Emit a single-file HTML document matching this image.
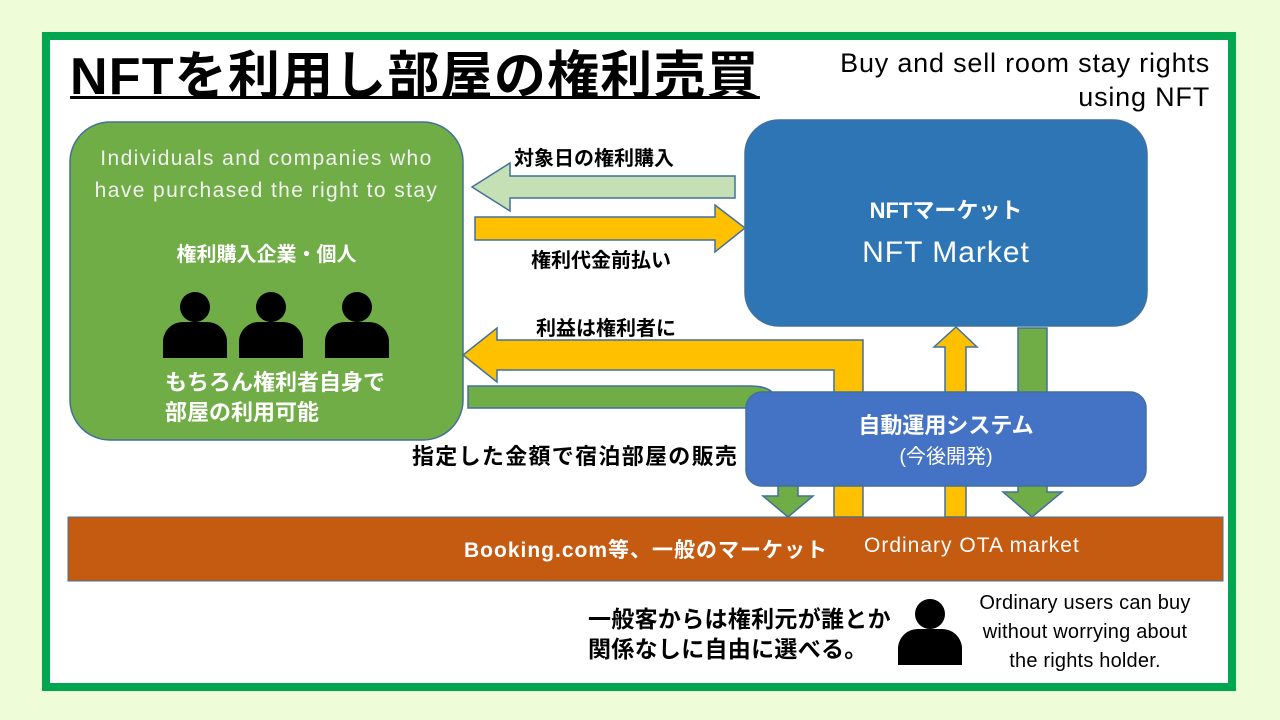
<!DOCTYPE html>
<html><head><meta charset="utf-8"><style>
body{margin:0;width:1280px;height:720px;background:#eefcd8;overflow:hidden;font-family:"Liberation Sans","Noto Sans CJK JP",sans-serif;}
.a{position:absolute;white-space:nowrap;}
</style></head><body>
<div class="a" style="left:42px;top:32px;width:1178px;height:643px;border:8px solid #00a650;background:#fff"></div>
<div class="a" style="left:70px;top:34px;font-size:52px;font-weight:bold;text-decoration:underline;text-decoration-thickness:3px;color:#000;letter-spacing:1.2px">NFTを利用し部屋の権利売買</div>
<div class="a" style="right:70px;top:46px;font-size:27px;line-height:34px;text-align:right;color:#000;letter-spacing:0.8px">Buy and sell room stay rights<br>using NFT</div>

<svg class="a" style="left:0;top:0" width="1280" height="720">
<g stroke="#41719c" stroke-width="1.5">
<rect x="70" y="122" width="393" height="318" rx="40" fill="#70ad47"/>
<rect x="745" y="120" width="402" height="206" rx="34" fill="#2e75b6"/>
<polygon points="735,176 735,198 510,198 510,211 472,187 510,163 510,176" fill="#c5e0b4"/>
<polygon points="475,217 715,217 715,205 745,228 715,252 715,240 475,240" fill="#ffc000"/>
<polygon points="863,340 863,517 834,517 834,370 497,370 497,382 463,355 497,328 497,340" fill="#ffc000"/>
<path d="M468,386 L750,386 Q770,386 775,396 L775,408 L468,408 Z" fill="#70ad47"/>
<polygon points="945,517 945,347 934,347 956,327 977,347 966,347 966,517" fill="#ffc000"/>
<polygon points="1018,328 1047,328 1047,492 1062,492 1032,517 1003,492 1018,492" fill="#70ad47"/>
<rect x="746" y="392" width="400" height="94" rx="16" fill="#4472c4"/>
<polygon points="778,486 798,486 798,496 813,496 788,517 763,496 778,496" fill="#70ad47"/>
</g>
<rect x="68" y="517" width="1155" height="64" fill="#c55a11" stroke="#41719c" stroke-width="1"/>
<g fill="#000">
<circle cx="195" cy="307" r="15"/><path d="M163,358 v-18 a20,20 0 0 1 20,-18 h24 a20,20 0 0 1 20,18 v18z"/>
<circle cx="271" cy="307" r="15"/><path d="M239,358 v-18 a20,20 0 0 1 20,-18 h24 a20,20 0 0 1 20,18 v18z"/>
<circle cx="357" cy="307" r="15"/><path d="M325,358 v-18 a20,20 0 0 1 20,-18 h24 a20,20 0 0 1 20,18 v18z"/>
<circle cx="930" cy="614" r="15"/><path d="M898,665 v-18 a20,20 0 0 1 20,-18 h24 a20,20 0 0 1 20,18 v18z"/>
</g>
</svg>

<div class="a" style="left:70px;width:393px;top:143px;text-align:center;color:#f2f2f2;font-size:21px;line-height:32px;letter-spacing:1.4px">Individuals and companies who<br>have purchased the right to stay</div>
<div class="a" style="left:70px;width:393px;top:238px;text-align:center;color:#fff;font-size:20px;font-weight:bold">権利購入企業・個人</div>
<div class="a" style="left:165px;top:368px;color:#fff;font-size:22px;font-weight:bold;line-height:30px">もちろん権利者自身で<br>部屋の利用可能</div>
<div class="a" style="left:745px;width:402px;top:193px;text-align:center;color:#fff;font-size:22px;font-weight:bold">NFTマーケット</div>
<div class="a" style="left:745px;width:402px;top:236px;text-align:center;color:#fff;font-size:30px;letter-spacing:1px">NFT Market</div>
<div class="a" style="left:746px;width:400px;top:408px;text-align:center;color:#fff;font-size:22px;font-weight:bold">自動運用システム</div>
<div class="a" style="left:746px;width:400px;top:440px;text-align:center;color:#fff;font-size:20px">(今後開発)</div>
<div class="a" style="left:514px;top:142px;font-size:20px;font-weight:bold">対象日の権利購入</div>
<div class="a" style="left:531px;top:244px;font-size:20px;font-weight:bold">権利代金前払い</div>
<div class="a" style="left:536px;top:312px;font-size:20px;font-weight:bold">利益は権利者に</div>
<div class="a" style="left:412px;top:439px;font-size:22px;font-weight:bold;letter-spacing:1.3px">指定した金額で宿泊部屋の販売</div>
<div class="a" style="left:464px;top:534px;color:#fff;font-size:21px;font-weight:bold;letter-spacing:1px">Booking.com等、一般のマーケット</div>
<div class="a" style="left:864px;top:534px;color:#fff;font-size:21px;letter-spacing:1px">Ordinary OTA market</div>
<div class="a" style="left:588px;top:604px;font-size:23px;font-weight:bold;line-height:30px;letter-spacing:0.3px">一般客からは権利元が誰とか<br>関係なしに自由に選べる。</div>
<div class="a" style="left:960px;width:250px;top:589px;text-align:center;font-size:20px;line-height:29px;letter-spacing:0.2px">Ordinary users can buy<br>without worrying about<br>the rights holder.</div>
</body></html>
